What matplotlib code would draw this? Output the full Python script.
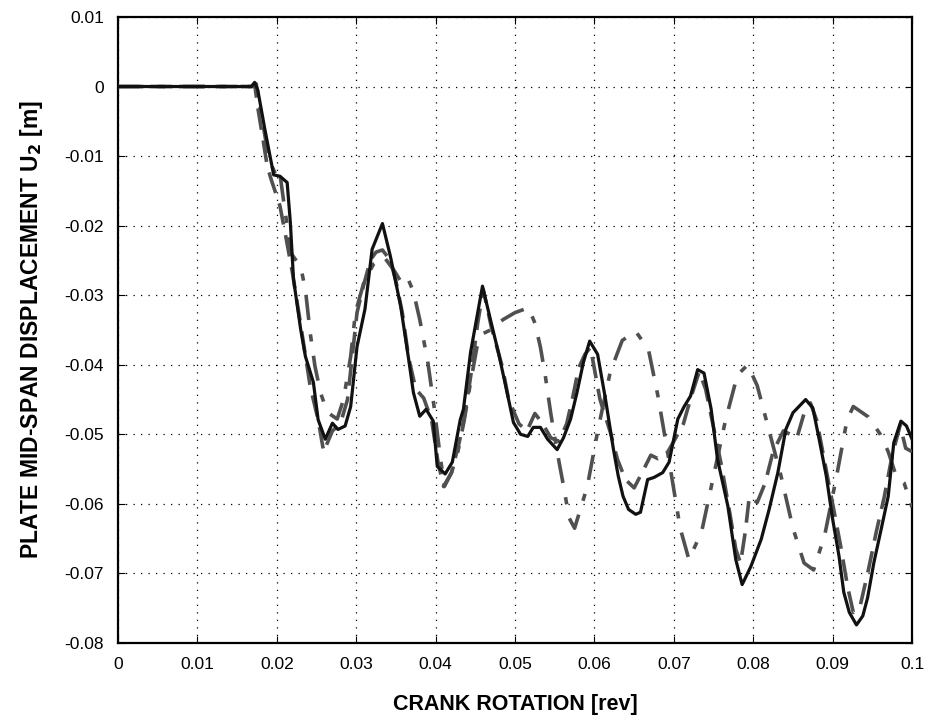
import numpy as np
import matplotlib.pyplot as plt

# solid black curve
x_solid = [0.0, 0.0168, 0.0172, 0.0176, 0.0185, 0.0196, 0.0204, 0.0213, 0.0217, 0.0221,
           0.0230, 0.0236, 0.0246, 0.0252, 0.0261, 0.0270, 0.0277, 0.0286, 0.0293, 0.0301,
           0.0311, 0.0320, 0.0333, 0.0343, 0.0356, 0.0366, 0.0372, 0.0380, 0.0388, 0.0397,
           0.0402, 0.0412, 0.0421, 0.0431, 0.0435, 0.0444, 0.0453, 0.0459, 0.0469, 0.0479,
           0.0490, 0.0498, 0.0507, 0.0516, 0.0523, 0.0532, 0.0541, 0.0553, 0.0561, 0.0570,
           0.0578, 0.0586, 0.0594, 0.0604, 0.0614, 0.0624, 0.0630, 0.0636, 0.0643, 0.0652,
           0.0658, 0.0667, 0.0675, 0.0686, 0.0694, 0.0705, 0.0713, 0.0721, 0.0730, 0.0738,
           0.0747, 0.0755, 0.0768, 0.0778, 0.0786, 0.0797, 0.0810, 0.0820, 0.0831, 0.0841,
           0.0850, 0.0866, 0.0875, 0.0883, 0.0892, 0.0900, 0.0908, 0.0914, 0.0921, 0.0930,
           0.0938, 0.0944, 0.0952, 0.0961, 0.0970, 0.0977, 0.0986, 0.0993, 0.1000]
y_solid = [0.0, 0.0, 0.0006, -0.0005, -0.0062, -0.0127, -0.0129, -0.0138, -0.0195, -0.0277,
           -0.0349, -0.0388, -0.0425, -0.0479, -0.0507, -0.0484, -0.0493, -0.0488, -0.0460, -0.0374,
           -0.0320, -0.0234, -0.0197, -0.0244, -0.0316, -0.0392, -0.0440, -0.0474, -0.0464, -0.0481,
           -0.0546, -0.0557, -0.0540, -0.0479, -0.0464, -0.0382, -0.0325, -0.0287, -0.0335, -0.0382,
           -0.0440, -0.0483, -0.0500, -0.0503, -0.0490, -0.0490, -0.0507, -0.0522, -0.0505, -0.0478,
           -0.0440, -0.0397, -0.0366, -0.0385, -0.0450, -0.0522, -0.0560, -0.0589, -0.0608, -0.0615,
           -0.0612, -0.0565, -0.0562, -0.0555, -0.0540, -0.0478, -0.0460, -0.0445, -0.0407, -0.0412,
           -0.0464, -0.0536, -0.0603, -0.0680, -0.0716, -0.0690, -0.0651, -0.0608, -0.0555, -0.0493,
           -0.0469, -0.0450, -0.0462, -0.0507, -0.0560, -0.0622, -0.0675, -0.0727, -0.0756, -0.0774,
           -0.0761, -0.0735, -0.0684, -0.0637, -0.0589, -0.0512, -0.0481, -0.0488, -0.0507]

# dashed grey curve
x_dash = [0.0, 0.0168, 0.0172, 0.0176, 0.0182, 0.0188, 0.0193, 0.0204, 0.0212, 0.0220,
          0.0229, 0.0242, 0.0252, 0.0259, 0.0270, 0.0280, 0.0289, 0.0301, 0.0309, 0.0318,
          0.0325, 0.0333, 0.0343, 0.0350, 0.0358, 0.0366, 0.0375, 0.0385, 0.0395, 0.0403,
          0.0410, 0.0420, 0.0430, 0.0437, 0.0445, 0.0453, 0.0460, 0.0470, 0.0484, 0.0492,
          0.0505, 0.0515, 0.0525, 0.0535, 0.0545, 0.0555, 0.0565, 0.0573, 0.0580, 0.0588,
          0.0595, 0.0607, 0.0620, 0.0629, 0.0639, 0.0650, 0.0660, 0.0671, 0.0680, 0.0690,
          0.0700, 0.0712, 0.0722, 0.0732, 0.0740, 0.0750, 0.0760, 0.0770, 0.0778, 0.0784,
          0.0790, 0.0795, 0.0805, 0.0815, 0.0825, 0.0838, 0.0855, 0.0864, 0.0872, 0.0880,
          0.0890, 0.0900, 0.0910, 0.0919, 0.0926, 0.0935, 0.0945, 0.0955, 0.0965, 0.0975,
          0.0985, 0.0992, 0.1000]
y_dash = [0.0, 0.0, 0.0004, -0.0030, -0.0072, -0.0115, -0.0134, -0.0172, -0.0220, -0.0270,
          -0.0335, -0.0431, -0.0479, -0.0525, -0.0495, -0.0485, -0.0450, -0.0325, -0.0287, -0.0249,
          -0.0238, -0.0235, -0.0250, -0.0280, -0.0325, -0.0390, -0.0435, -0.0448, -0.0480, -0.0540,
          -0.0575, -0.0555, -0.0510, -0.0470, -0.0410, -0.0340, -0.0292, -0.0345, -0.0403, -0.0450,
          -0.0485, -0.0495, -0.0470, -0.0485, -0.0505, -0.0510, -0.0485, -0.0445, -0.0405, -0.0385,
          -0.0375, -0.0450, -0.0497, -0.0536, -0.0565, -0.0577, -0.0555, -0.0530, -0.0535, -0.0530,
          -0.0510, -0.0485, -0.0445, -0.0410, -0.0435, -0.0490, -0.0545, -0.0610, -0.0665, -0.0685,
          -0.0640, -0.0590, -0.0598, -0.0570, -0.0525, -0.0495, -0.0505, -0.0470, -0.0455, -0.0480,
          -0.0540, -0.0600, -0.0660, -0.0720, -0.0756, -0.0745, -0.0695, -0.0640, -0.0590, -0.0530,
          -0.0487, -0.0520, -0.0525]

# dash-dot grey curve
x_dot = [0.0, 0.0170, 0.0174, 0.0182, 0.0190, 0.0198, 0.0203, 0.0208, 0.0218, 0.0230,
         0.0236, 0.0242, 0.0248, 0.0255, 0.0261, 0.0267, 0.0276, 0.0284, 0.0293, 0.0299,
         0.0310, 0.0322, 0.0335, 0.0348, 0.0356, 0.0364, 0.0372, 0.0380, 0.0390, 0.0398,
         0.0405, 0.0411, 0.0420, 0.0428, 0.0436, 0.0444, 0.0452, 0.0460, 0.0469, 0.0485,
         0.0500, 0.0517, 0.0525, 0.0532, 0.0538, 0.0545, 0.0553, 0.0562, 0.0568, 0.0575,
         0.0583, 0.0591, 0.0605, 0.0620, 0.0635, 0.0652, 0.0668, 0.0680, 0.0695, 0.0708,
         0.0719, 0.0735, 0.0750, 0.0765, 0.0780, 0.0793, 0.0805, 0.0820, 0.0835, 0.0850,
         0.0864, 0.0876, 0.0890, 0.0905, 0.0918, 0.0926, 0.0945, 0.0960, 0.0970, 0.0980,
         0.0990, 0.1000]
y_dot = [0.0, 0.0, 0.0004, -0.0050, -0.0105, -0.0125, -0.0118, -0.0160, -0.0240, -0.0259,
         -0.0292, -0.0354, -0.0402, -0.0440, -0.0460, -0.0471, -0.0478, -0.0450, -0.0388, -0.0325,
         -0.0280, -0.0255, -0.0245, -0.0265, -0.0280, -0.0273, -0.0295, -0.0335, -0.0395, -0.0460,
         -0.0525, -0.0575, -0.0555, -0.0525, -0.0480, -0.0425, -0.0375, -0.0355, -0.0350, -0.0335,
         -0.0325, -0.0318, -0.0340, -0.0375, -0.0415, -0.0470, -0.0525, -0.0580, -0.0620, -0.0635,
         -0.0605, -0.0575, -0.0490, -0.0410, -0.0365, -0.0352, -0.0378, -0.0445, -0.0545, -0.0635,
         -0.0680, -0.0640, -0.0560, -0.0480, -0.0415, -0.0400, -0.0430, -0.0495, -0.0560, -0.0635,
         -0.0685, -0.0695, -0.0645, -0.0560, -0.0480, -0.0460, -0.0475, -0.0500, -0.0525, -0.0560,
         -0.0570, -0.0605]

x_ticks = [0, 0.01, 0.02, 0.03, 0.04, 0.05, 0.06, 0.07, 0.08, 0.09, 0.1]
x_labels = ['0', '0.01', '0.02', '0.03', '0.04', '0.05', '0.06', '0.07', '0.08', '0.09', '0.1']
y_ticks = [0.01, 0, -0.01, -0.02, -0.03, -0.04, -0.05, -0.06, -0.07, -0.08]
y_labels = ['0.01', '0', '-0.01', '-0.02', '-0.03', '-0.04', '-0.05', '-0.06', '-0.07', '-0.08']

plt.rcParams['font.family'] = ['Liberation Sans', 'DejaVu Sans']

fig = plt.figure(figsize=(9.25, 7.19), dpi=100)
ax = fig.add_axes([0.1276, 0.1057, 0.8584, 0.8707])

grey = '#505050'
ax.plot(x_dot, y_dot, color=grey, lw=2.6, dashes=(7, 4, 2, 4), zorder=3)
ax.plot(x_dash, y_dash, color=grey, lw=2.6, dashes=(6, 3), zorder=3)
ax.plot(x_solid, y_solid, color='#111111', lw=2.3, zorder=4)

ax.set_xlim(0, 0.1)
ax.set_ylim(-0.08, 0.01)
ax.set_xticks(x_ticks)
ax.set_xticklabels(x_labels, fontsize=12.5)
ax.set_yticks(y_ticks)
ax.set_yticklabels(y_labels, fontsize=12.5)
ax.tick_params(direction='in', length=5, width=0.8, top=True, right=True, pad=10)
ax.grid(True, color='black', linestyle=(0, (1, 5)), linewidth=0.9)
for s in ax.spines.values():
    s.set_linewidth(1.6)

ax.set_xlabel('CRANK ROTATION [rev]', fontsize=15.5, fontweight='bold', labelpad=16)
ax.set_ylabel('PLATE MID-SPAN DISPLACEMENT U$_\\mathbf{2}$ [m]', fontsize=16.5,
              fontweight='bold', labelpad=14)

fig.savefig('out.png', dpi=100)
